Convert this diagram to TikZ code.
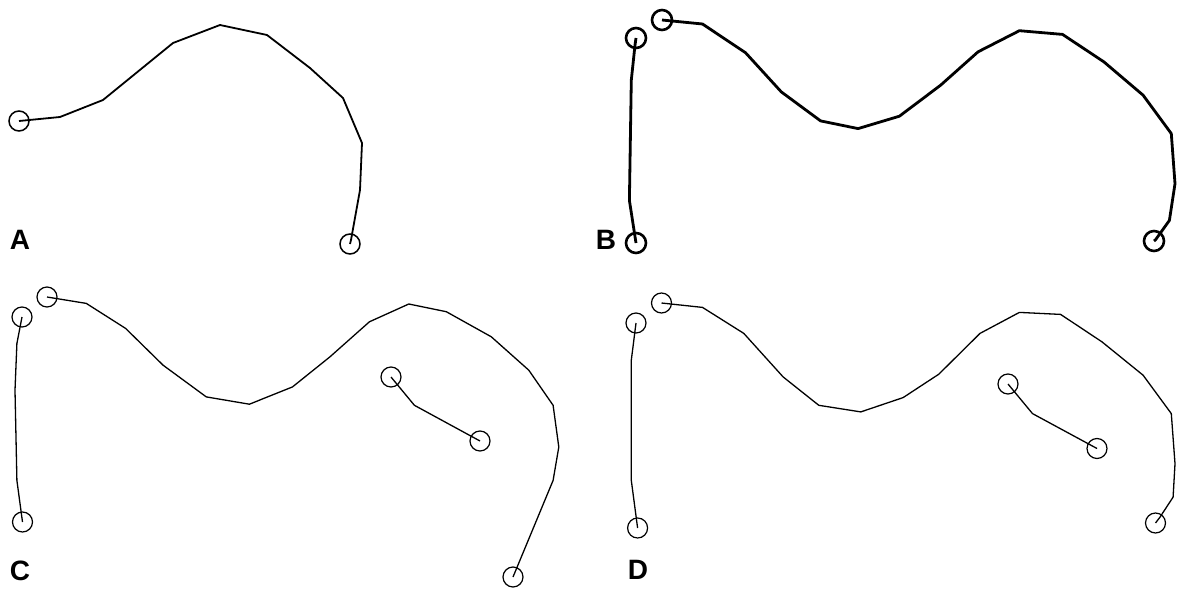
\documentclass[tikz,border=0pt]{standalone}
\usepackage{fontspec}
\setmainfont{Liberation Sans}
\begin{document}
\begin{tikzpicture}[x=1pt,y=-1pt,
  endpt/.style={circle,draw,minimum size=20pt,inner sep=0pt},
  panel/.style={font=\bfseries\fontsize{28}{28}\selectfont,inner sep=0pt},
  thinline/.style={line width=1.3pt,line join=round},
  medline/.style={line width=1.8pt,line join=round},
  thickline/.style={line width=2.8pt,line join=round}]
\useasboundingbox (0,0) rectangle (1179,589);

% ---- A ----
\node[panel] (labA) at (20,240) {A};
\begin{scope}[every node/.append style={line width=1.5pt}]
\node[endpt] (a1) at (19,121) {};
\node[endpt] (a2) at (350,244) {};
\end{scope}
\draw[medline] (a1.center) -- (60,117) -- (103,100) -- (173,43) -- (220,25)
  -- (267,35) -- (310,68) -- (343,98) -- (362,143) -- (360,190) -- (351,240) -- (a2.center);

% ---- B ----
\node[panel] (labB) at (606,240) {B};
\begin{scope}[every node/.append style={line width=2.6pt}]
\node[endpt] (b1) at (636,243) {};
\node[endpt] (b2) at (636,38) {};
\node[endpt] (b3) at (662,20) {};
\node[endpt] (b4) at (1154,241) {};
\end{scope}
\draw[thickline] (b1.center) -- (629.4,200.4) -- (631.3,80.2) -- (635,45.1) -- (b2.center);
\draw[thickline] (b3.center) -- (702.5,24) -- (745.6,52.8) -- (781.3,91.9) -- (820.6,120.9)
  -- (858.1,128.6) -- (899.4,116.2) -- (940.6,85.2) -- (978.1,51.8) -- (1019.4,30.7)
  -- (1062.5,34.4) -- (1103.8,61.8) -- (1143.1,95.2) -- (1171.3,133.6) -- (1175,183.7)
  -- (1169.4,220.4) -- (1155.5,239.8) -- (b4.center);

% ---- C ----
\node[panel] (labC) at (20,571) {C};
\begin{scope}[every node/.append style={line width=1.2pt}]
\node[endpt] (c1) at (22,317) {};
\node[endpt] (c2) at (22.5,522) {};
\node[endpt] (c3) at (47,297) {};
\node[endpt] (c4) at (513,577) {};
\node[endpt] (c5) at (391,377) {};
\node[endpt] (c6) at (480,441) {};
\end{scope}
\draw[thinline] (c1.center) -- (16.9,343.5) -- (15,390.2) -- (16.9,480.4) -- (c2.center);
\draw[thinline] (c3.center) -- (86.3,303.4) -- (125.6,328.4) -- (163.1,365.2) -- (206.3,396.9)
  -- (249.4,404.2) -- (292.5,386.9) -- (330,356.8) -- (369.4,321.8) -- (408.8,304)
  -- (446.3,311.7) -- (491.3,336.8) -- (528.8,370.2) -- (553.1,405.3) -- (558.8,447)
  -- (553.1,480.4) -- (c4.center);
\draw[thinline] (c5.center) -- (414.4,405.3) -- (c6.center);

% ---- D ----
\node[panel] (labD) at (638,570) {D};
\begin{scope}[every node/.append style={line width=1.2pt}]
\node[endpt] (d1) at (636,323) {};
\node[endpt] (d2) at (637.6,528) {};
\node[endpt] (d3) at (661.5,303) {};
\node[endpt] (d4) at (1155.5,523) {};
\node[endpt] (d5) at (1008,384) {};
\node[endpt] (d6) at (1097,448.5) {};
\end{scope}
\draw[thinline] (d1.center) -- (631.3,360.2) -- (631.3,480.4) -- (d2.center);
\draw[thinline] (d3.center) -- (702.5,307.4) -- (743.8,333.4) -- (783.1,376.9) -- (818.8,405.3)
  -- (860.8,411.9) -- (903.1,397.6) -- (938.8,374.2) -- (980,333.4) -- (1019.4,312.4)
  -- (1060.6,314.4) -- (1101.9,341.8) -- (1143.1,375.2) -- (1171.3,413.6) -- (1175,463.7)
  -- (1173.1,497.1) -- (1160,517.1) -- (d4.center);
\draw[thinline] (d5.center) -- (1032.5,413.6) -- (d6.center);
\end{tikzpicture}
\end{document}
